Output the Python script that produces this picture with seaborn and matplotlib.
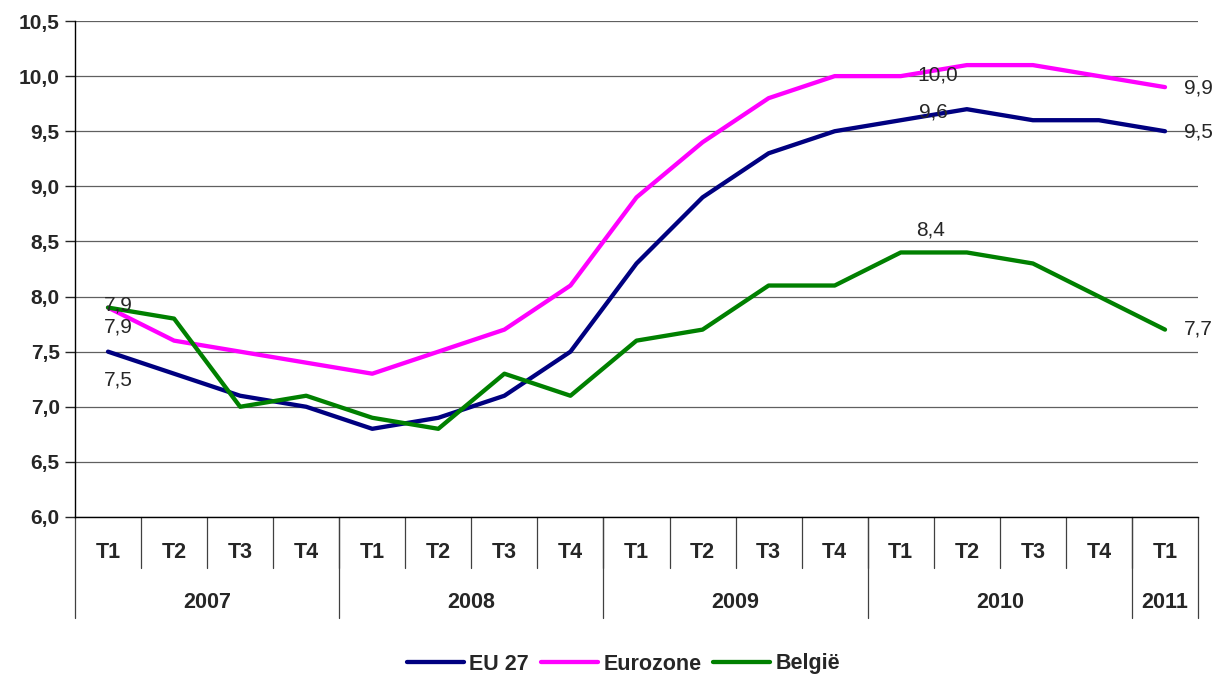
import numpy as np
import pandas as pd
import matplotlib
matplotlib.use("Agg")
import matplotlib.pyplot as plt
from matplotlib.ticker import FuncFormatter, MultipleLocator
from matplotlib.lines import Line2D
import matplotlib.transforms as mtransforms
import seaborn as sns

# data
quarters = ["T1", "T2", "T3", "T4"] * 4 + ["T1"]
years = ["2007", "2008", "2009", "2010", "2011"]
year_counts = [4, 4, 4, 4, 1]
eu27 = [7.5, 7.3, 7.1, 7.0, 6.8, 6.9, 7.1, 7.5, 8.3, 8.9, 9.3, 9.5, 9.6, 9.7, 9.6, 9.6, 9.5]
eurozone = [7.9, 7.6, 7.5, 7.4, 7.3, 7.5, 7.7, 8.1, 8.9, 9.4, 9.8, 10.0, 10.0, 10.1, 10.1, 10.0, 9.9]
belgie = [7.9, 7.8, 7.0, 7.1, 6.9, 6.8, 7.3, 7.1, 7.6, 7.7, 8.1, 8.1, 8.4, 8.4, 8.3, 8.0, 7.7]
series_names = ["EU 27", "Eurozone", "België"]
colors = ["#000080", "#FF00FF", "#008000"]

n = len(quarters)
df = pd.DataFrame({
    "idx": list(range(n)) * 3,
    "value": eu27 + eurozone + belgie,
    "serie": [s for s in series_names for _ in range(n)],
})

sns.set_style("white")
plt.rcParams['font.family'] = ['Liberation Sans', 'DejaVu Sans']

fig = plt.figure(figsize=(12.23, 6.78), dpi=100)
ax = fig.add_axes([0.0613, 0.2375, 0.9183, 0.7315])

sns.lineplot(data=df, x="idx", y="value", hue="serie", palette=colors,
             hue_order=series_names, linewidth=3.1, ax=ax, legend=False)

ax.set_xlim(-0.5, n - 0.5)
ax.set_ylim(6.0, 10.5)
ax.yaxis.set_major_locator(MultipleLocator(0.5))
ax.yaxis.set_major_formatter(FuncFormatter(lambda v, p: f"{v:.1f}".replace(".", ",")))
ax.grid(axis="y", color="#606060", linewidth=0.9)
ax.set_axisbelow(True)
for s in ["top", "right"]:
    ax.spines[s].set_visible(False)
ax.spines["left"].set_color("black")
ax.spines["bottom"].set_color("black")
ax.spines["left"].set_linewidth(1)
ax.spines["bottom"].set_linewidth(1)
ax.tick_params(axis="y", left=True, length=7, width=1, direction="out", labelsize=15, pad=4)
for lab in ax.get_yticklabels():
    lab.set_fontweight("bold")
ax.set_xticks([])
ax.set_xlabel("")
ax.set_ylabel("")

# category axis below the plot
trans = mtransforms.blended_transform_factory(ax.transData, fig.transFigure)
def fy(px):
    return 1 - px / 678
for i, q in enumerate(quarters):
    ax.text(i, fy(552), q, transform=trans, ha="center", va="center",
            fontsize=15.5, fontweight="bold")
for b in range(1, n):
    ax.plot([b - 0.5, b - 0.5], [fy(517), fy(568)], transform=trans,
            color="#404040", linewidth=0.9, clip_on=False)
start = 0
bounds = [start]
for y, c in zip(years, year_counts):
    ax.text(start + (c - 1) / 2, fy(602), y, transform=trans, ha="center",
            va="center", fontsize=15.5, fontweight="bold")
    start += c
    bounds.append(start)
for b in bounds:
    ax.plot([b - 0.5, b - 0.5], [fy(517), fy(618)], transform=trans,
            color="#404040", linewidth=0.9, clip_on=False)

# data labels
labels = [
    (0, belgie[0], 10, 3),
    (0, eurozone[0], 10, -19),
    (0, eu27[0], 10, -28),
    (12, eurozone[12], 37, 1),
    (12, eu27[12], 33, 8),
    (12, belgie[12], 30, 22),
    (16, eurozone[16], 33, -1),
    (16, eu27[16], 33, -1),
    (16, belgie[16], 33, 1),
]
for xi, val, dx, dy in labels:
    ax.annotate(f"{val:.1f}".replace(".", ","), (xi, val), xytext=(dx, dy),
                textcoords="offset pixels", ha="center", va="center", fontsize=15)

# legend
handles = [Line2D([0], [0], color=c, linewidth=3.1) for c in colors]
fig.legend(handles, series_names, loc="center", bbox_to_anchor=(0.51, fy(664)),
           ncol=3, frameon=False, handlelength=2.65, handletextpad=0.25,
           columnspacing=0.55, prop={"weight": "bold", "size": 15.5})

fig.savefig("out.png", dpi=100)
